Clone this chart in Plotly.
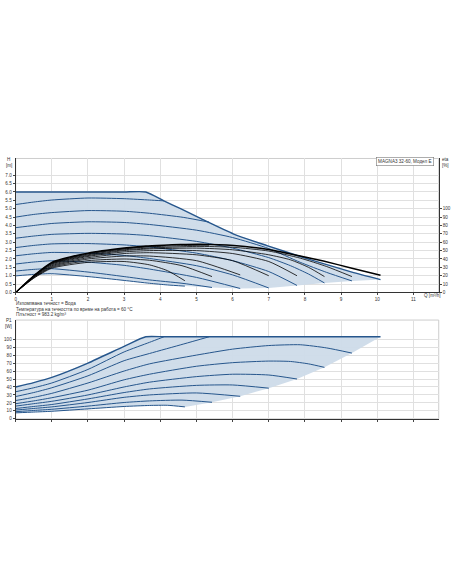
import plotly.graph_objects as go

# ---------------- data ----------------
# speed curve 1 (max curve, limited)
Q1 = [0, 0.5, 1, 2, 3, 3.6, 4.1, 4.56, 5.11, 6.03, 6.95, 7.87, 8.51, 9.30, 10.09]
H1 = [6.0, 6.0, 6.0, 6.0, 6.0, 6.0, 5.47, 5.0, 4.42, 3.49, 2.80, 2.15, 1.72, 1.22, 0.77]
ETA1 = [0, 20, 36, 47, 53, 55.5, 56.5, 57.2, 57.5, 56, 51.5, 43.5, 37.5, 29, 20.5]
P1 = [40, 45.5, 52, 70, 91, 103, 103, 103, 103, 103, 103, 103, 103, 103, 103]

Q2 = [0, 0.5, 1, 2, 3, 3.7, 4.1]
H2 = [5.25, 5.4, 5.52, 5.64, 5.6, 5.52, 5.47]
ETA2 = [0, 20, 35.5, 46.5, 52.5, 55, 56]
P2 = [34, 39, 45, 62, 84, 96, 103]

Q3 = [0, 0.5, 1, 2, 3, 3.7, 4.65, 5.35]
H3 = [4.5, 4.66, 4.77, 4.89, 4.85, 4.73, 4.48, 4.2]
ETA3 = [0, 20, 35, 46, 52, 54.5, 56, 56.5]
P3 = [28, 33, 39, 54, 73, 82, 94, 103]

Q4 = [0, 0.5, 1, 2, 3, 3.7, 5, 6, 7, 7.87, 8.6, 9.3]
H4 = [3.87, 4.0, 4.12, 4.22, 4.18, 4.06, 3.72, 3.28, 2.62, 1.8, 1.2, 0.69]
ETA4 = [0, 19.5, 34.5, 45, 51, 53, 55, 54, 49.5, 41, 31, 19]
P4 = [23, 27, 32, 45, 60, 69, 80, 87.5, 92, 93, 89, 82.5]

Q5 = [0, 0.5, 1, 2, 3, 3.7, 5, 6, 7, 7.6, 8.1, 8.54]
H5 = [3.24, 3.37, 3.47, 3.53, 3.49, 3.39, 3.05, 2.65, 2.08, 1.6, 1.1, 0.57]
ETA5 = [0, 19, 34, 44, 50, 52, 53, 51, 45, 39, 30, 19]
P5 = [19, 22.5, 26.5, 36, 49, 56, 66, 70.5, 72.5, 72, 69, 64.6]

Q6 = [0, 0.5, 1, 2, 3, 3.7, 5, 6, 7, 7.78]
H6 = [2.68, 2.81, 2.9, 2.92, 2.84, 2.72, 2.35, 1.9, 1.25, 0.42]
ETA6 = [0, 19, 33, 43, 48.5, 50, 50, 46.5, 37, 20]
P6 = [16, 19, 22, 30, 40, 46, 53, 56, 55, 50]

Q7 = [0, 0.5, 1, 2, 3, 3.7, 5, 6, 7.0]
H7 = [2.19, 2.31, 2.39, 2.35, 2.21, 2.03, 1.6, 1.05, 0.27]
ETA7 = [0, 18.5, 32, 41.5, 46.5, 47.5, 45, 38, 20]
P7 = [13, 15.5, 18, 25, 33, 37.5, 42, 42.5, 38.5]

Q8 = [0, 0.5, 1, 2, 3, 3.7, 5, 6.21]
H8 = [1.70, 1.82, 1.89, 1.81, 1.62, 1.4, 0.9, 0.24]
ETA8 = [0, 18, 31, 40, 43.5, 43.5, 38, 21]
P8 = [11, 13, 15, 20.5, 27, 30, 32.5, 28.3]

Q9 = [0, 0.5, 1, 2, 3, 3.7, 4.6, 5.43]
H9 = [1.28, 1.38, 1.42, 1.22, 0.95, 0.75, 0.55, 0.3]
ETA9 = [0, 17.5, 30, 38, 40, 38.5, 32, 19]
P9 = [9, 10.5, 12, 16, 20.5, 22.5, 23.5, 20.8]

Q10 = [0, 0.5, 1, 2, 3, 3.7, 4.2, 4.68]
H10 = [0.99, 1.08, 1.12, 0.95, 0.72, 0.55, 0.45, 0.38]
ETA10 = [0, 17, 29, 36, 37, 33, 26, 14]
P10 = [7.5, 8.5, 9.5, 12.5, 15.5, 16.8, 17, 15]

Q_TICKS = list(range(0, 12))
H_TICKS = [i * 0.5 for i in range(15)]
ETA_TICKS = list(range(0, 101, 10))
P_TICKS = list(range(0, 101, 10))

INFO_LINES = [
    "Изпомпвана течност = Вода",
    "Температура на течността по време на работа = 60 °C",
    "Плътност = 983.2 kg/m³",
]
LEGEND_TEXT = "MAGNA3 32-60, Модел E"

# ---------------- figure ----------------
QS = [Q1, Q2, Q3, Q4, Q5, Q6, Q7, Q8, Q9, Q10]
HS = [H1, H2, H3, H4, H5, H6, H7, H8, H9, H10]
ES = [ETA1, ETA2, ETA3, ETA4, ETA5, ETA6, ETA7, ETA8, ETA9, ETA10]
PS = [P1, P2, P3, P4, P5, P6, P7, P8, P9, P10]
# curves ending on the lower boundary, from right to left
END_ORDER = [3, 4, 5, 6, 7, 8]

BLUE = "rgb(38,86,140)"
FILL = "rgba(205,219,233,0.95)"
GRID = "rgb(224,224,224)"
FONT = "Arial"
W, Hpx = 452, 584

fig = go.Figure()

# top fill polygon
fx = list(Q1) + [QS[i][-1] for i in END_ORDER] + list(reversed(Q10))
fy = list(H1) + [HS[i][-1] for i in END_ORDER] + list(reversed(H10))
fig.add_trace(go.Scatter(x=fx, y=fy, fill="toself", fillcolor=FILL, mode="none",
                         xaxis="x", yaxis="y", hoverinfo="skip", showlegend=False))
for k in range(9, -1, -1):
    fig.add_trace(go.Scatter(x=QS[k], y=HS[k], mode="lines",
                             line=dict(color=BLUE, width=1.4 if k == 0 else 1.0, shape="spline", smoothing=0.6),
                             xaxis="x", yaxis="y", showlegend=False))
for k in range(9, -1, -1):
    fig.add_trace(go.Scatter(x=QS[k], y=ES[k], mode="lines",
                             line=dict(color="black", width=1.5 if k == 0 else 0.8, shape="spline", smoothing=0.6),
                             xaxis="x", yaxis="y2", showlegend=False))

# bottom fill polygon
bx = list(Q1) + [QS[i][-1] for i in END_ORDER] + list(reversed(Q10))
by = list(P1) + [PS[i][-1] for i in END_ORDER] + list(reversed(P10))
fig.add_trace(go.Scatter(x=bx, y=by, fill="toself", fillcolor=FILL, mode="none",
                         xaxis="x3", yaxis="y3", hoverinfo="skip", showlegend=False))
for k in range(9, -1, -1):
    fig.add_trace(go.Scatter(x=QS[k], y=PS[k], mode="lines",
                             line=dict(color=BLUE, width=1.4 if k == 0 else 1.0, shape="spline", smoothing=0.6),
                             xaxis="x3", yaxis="y3", showlegend=False))

x0, x1 = 14.7, 438.7
top_y0, top_y1 = 294, 159.3
bot_y0, bot_y1 = 421, 321.7
xdom = [x0 / W, x1 / W]
tdom = [1 - top_y0 / Hpx, 1 - top_y1 / Hpx]
bdom = [1 - bot_y0 / Hpx, 1 - bot_y1 / Hpx]

tf = dict(family=FONT, size=4.6, color="#333")
common_x = dict(domain=xdom, range=[0, 11.7], tickvals=Q_TICKS, ticks="outside", ticklen=2,
                tickcolor="#444", showline=True, linecolor="#333", linewidth=1,
                gridcolor=GRID, gridwidth=1, zeroline=False, tickfont=tf, fixedrange=True)

fig.update_layout(
    width=W, height=Hpx, margin=dict(l=0, r=0, t=0, b=0),
    paper_bgcolor="white", plot_bgcolor="white",
    xaxis=dict(common_x, anchor="y"),
    yaxis=dict(domain=tdom, range=[0, 8], tickvals=H_TICKS, ticktext=[f"{v:.1f}" for v in H_TICKS],
               ticks="outside", ticklen=2, tickcolor="#444", showline=True, linecolor="#333",
               gridcolor=GRID, zeroline=False, tickfont=tf, anchor="x"),
    yaxis2=dict(overlaying="y", side="right", anchor="x", range=[0, 160], tickvals=ETA_TICKS,
                ticks="outside", ticklen=2, tickcolor="#444", showline=True, linecolor="#333",
                showgrid=False, zeroline=False, tickfont=tf),
    xaxis3=dict(common_x, anchor="y3", showticklabels=False),
    yaxis3=dict(domain=bdom, range=[0, 124], tickvals=P_TICKS, ticks="outside", ticklen=2,
                tickcolor="#444", showline=True, linecolor="#333", gridcolor=GRID,
                zeroline=False, tickfont=tf, anchor="x3"),
)

# light frames
for dom in (tdom, bdom):
    fig.add_shape(type="rect", xref="paper", yref="paper", x0=xdom[0], x1=xdom[1], y0=dom[0], y1=dom[1],
                  line=dict(color="rgb(205,205,205)", width=1), layer="below")

af = dict(family=FONT, size=4.6, color="#333")
ann = [
    dict(x=8 / W, y=1 - 160.5 / Hpx, text="H", xanchor="center", yanchor="middle"),
    dict(x=8 / W, y=1 - 166 / Hpx, text="[m]", xanchor="center", yanchor="middle"),
    dict(x=445 / W, y=1 - 160.5 / Hpx, text="eta", xanchor="center", yanchor="middle"),
    dict(x=445 / W, y=1 - 166 / Hpx, text="[%]", xanchor="center", yanchor="middle"),
    dict(x=8 / W, y=1 - 322.5 / Hpx, text="P1", xanchor="center", yanchor="middle"),
    dict(x=8 / W, y=1 - 328 / Hpx, text="[W]", xanchor="center", yanchor="middle"),
    dict(x=422 / W, y=1 - 297.5 / Hpx, text="Q [m³/h]", xanchor="left", yanchor="middle"),
]
for i, line in enumerate(INFO_LINES):
    ann.append(dict(x=13 / W, y=1 - (305.3 + 5.5 * i) / Hpx, text=line, xanchor="left", yanchor="middle"))
for a in ann:
    fig.add_annotation(xref="paper", yref="paper", showarrow=False, font=af, **a)
fig.add_annotation(xref="paper", yref="paper", x=434 / W, y=1 - 162 / Hpx, text=LEGEND_TEXT,
                   xanchor="right", yanchor="middle", showarrow=False, font=af,
                   bordercolor="#777", borderwidth=0.6, borderpad=1.5, bgcolor="white")

fig.write_html("out.html", config={"displayModeBar": False, "staticPlot": True},
               post_script="document.body.style.margin='0px';document.body.style.overflow='hidden';")
